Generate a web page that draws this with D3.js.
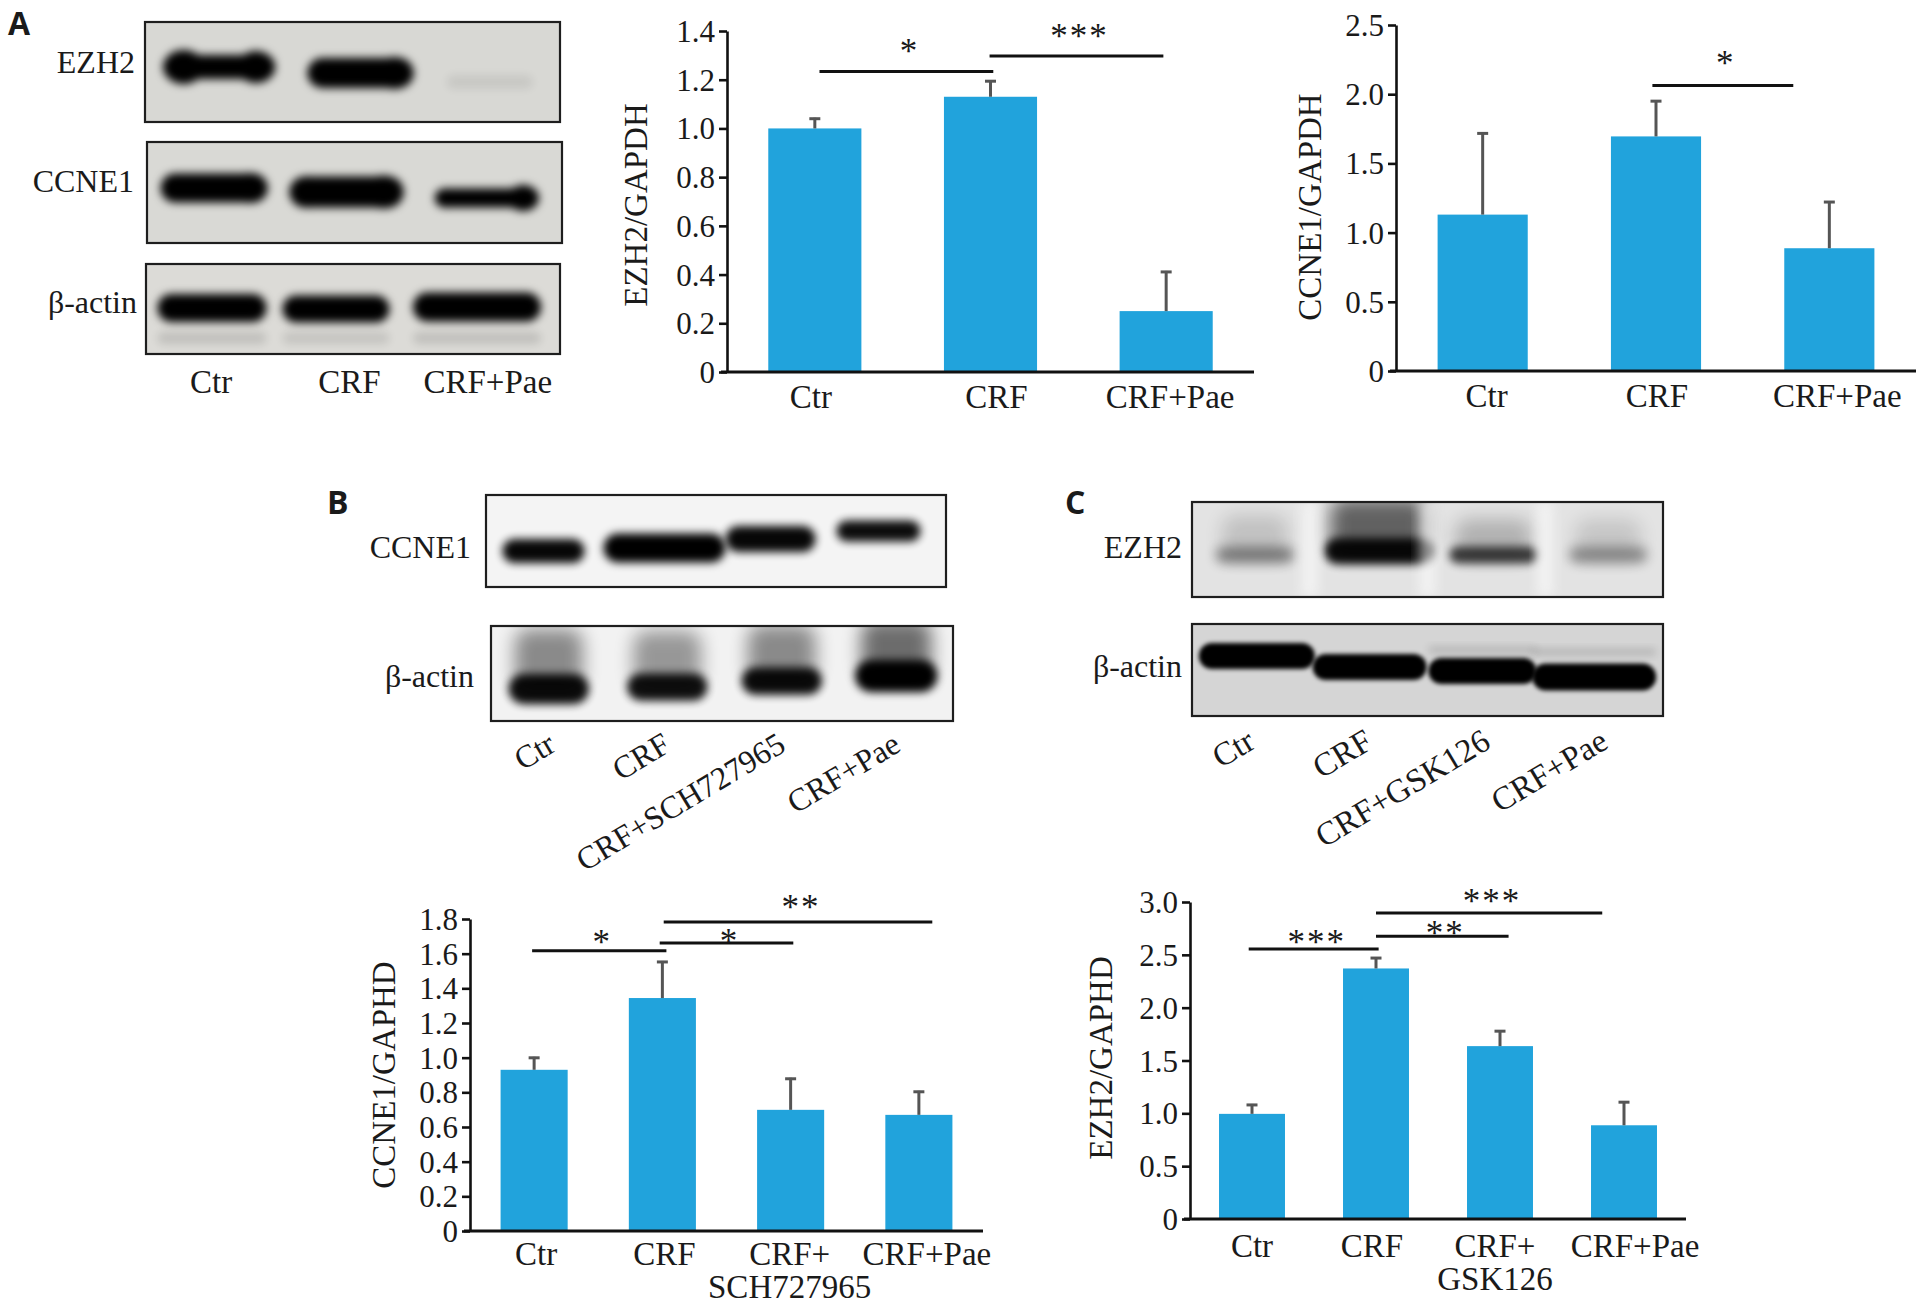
<!DOCTYPE html>
<html>
<head>
<meta charset="utf-8">
<script src="https://cdnjs.cloudflare.com/ajax/libs/d3/7.8.5/d3.min.js"></script>
<style>
body { margin: 0; background: #fff; }
text { font-family: "Liberation Serif", "Times New Roman", serif; fill: #1a1a1a; }
.panel { font-family: "Open Sans", "DejaVu Sans", sans-serif; font-weight: 700; }
</style>
</head>
<body>
<script>
// ---- data ----
var groupsA = ["Ctr", "CRF", "CRF+Pae"]
var ezh2A = [1.00, 1.13, 0.25]
var ezh2ErrA = [0.044, 0.068, 0.165]
var ccne1A = [1.13, 1.695, 0.887]
var ccne1ErrA = [0.594, 0.262, 0.341]
var ticksA1 = [0, 0.2, 0.4, 0.6, 0.8, 1.0, 1.2, 1.4]
var ticksA2 = [0, 0.5, 1.0, 1.5, 2.0, 2.5]

var groupsB = ["Ctr", "CRF", "CRF+SCH727965", "CRF+Pae"]
var axisLabelsB = [["Ctr"], ["CRF"], ["CRF+", "SCH727965"], ["CRF+Pae"]]
var ccne1B = [0.93, 1.344, 0.699, 0.670]
var ccne1ErrB = [0.075, 0.214, 0.185, 0.139]
var ticksB = [0, 0.2, 0.4, 0.6, 0.8, 1.0, 1.2, 1.4, 1.6, 1.8]

var groupsC = ["Ctr", "CRF", "CRF+GSK126", "CRF+Pae"]
var axisLabelsC = [["Ctr"], ["CRF"], ["CRF+", "GSK126"], ["CRF+Pae"]]
var ezh2C = [0.995, 2.371, 1.636, 0.887]
var ezh2ErrC = [0.094, 0.108, 0.151, 0.228]
var ticksC = [0, 0.5, 1.0, 1.5, 2.0, 2.5, 3.0]

// significance brackets: [from, to, height (axis units), stars]
var sigA1 = [["Ctr", "CRF", 1.234, "*"], ["CRF", "CRF+Pae", 1.297, "***"]]
var sigA2 = [["CRF", "CRF+Pae", 2.063, "*"]]
var sigB = [["Ctr", "CRF", 1.617, "*"], ["CRF", "CRF+SCH727965", 1.662, "*"], ["CRF", "CRF+Pae", 1.783, "**"]]
var sigC = [["Ctr", "CRF", 2.555, "***"], ["CRF", "CRF+GSK126", 2.675, "**"], ["CRF", "CRF+Pae", 2.896, "***"]]

// blot band density per lane (0 none .. 1 saturated)
var densA_EZH2 = [1, 1, 0.07]
var densA_CCNE1 = [1, 1, 1]
var densA_actin = [1, 1, 1]
var densB_CCNE1 = [0.97, 1, 0.97, 0.95]
var densB_actin = [0.95, 0.93, 0.95, 1]
var densC_EZH2 = [0.42, 0.95, 0.72, 0.36]
var densC_actin = [1, 1, 1, 1]

var blue = "#21a3dc"
var W = 1919, H = 1304

var svg = d3.select("body").append("svg")
    .attr("width", W)
    .attr("height", H)

svg.append("rect").attr("width", W).attr("height", H).attr("fill", "#fff")

var defs = svg.append("defs")
;[2, 3, 4, 6, 9].forEach(function(s){
    defs.append("filter")
        .attr("id", "blur" + s)
        .attr("x", "-50%").attr("y", "-100%")
        .attr("width", "200%").attr("height", "300%")
        .append("feGaussianBlur").attr("stdDeviation", s)
})

function addText(g, str, x, y, size, anchor){
    return g.append("text")
        .attr("x", x)
        .attr("y", y)
        .attr("font-size", size)
        .attr("text-anchor", anchor || "start")
        .text(str)
}

// panel letters
var letters = [["A", 8, 35], ["B", 327, 514], ["C", 1065, 514]]
letters.forEach(function(l){
    addText(svg, l[0], l[1], l[2], 32).attr("class", "panel")
})

// ---------- western blots ----------
var clipId = 0
function drawBlot(cfg){
    var g = svg.append("g")
    var lane = d3.scaleBand().domain(cfg.lanes).range([cfg.x, cfg.x + cfg.w])
    clipId++
    defs.append("clipPath").attr("id", "clip" + clipId)
        .append("rect").attr("x", cfg.x).attr("y", cfg.y).attr("width", cfg.w).attr("height", cfg.h)

    g.append("rect")
        .attr("x", cfg.x).attr("y", cfg.y)
        .attr("width", cfg.w).attr("height", cfg.h)
        .attr("fill", cfg.bg)

    var inner = g.append("g").attr("clip-path", "url(#clip" + clipId + ")")

    cfg.bands.forEach(function(b, i){
        var dens = cfg.density[i]
        var cx = lane(cfg.lanes[i]) + lane.bandwidth() / 2 + b.dx
        // diffuse smear above the band
        if (b.smear){
            inner.append("rect")
                .attr("x", cx - b.w / 2 + 6)
                .attr("y", b.cy - b.smear[0])
                .attr("width", b.w - 12)
                .attr("height", b.smear[0] + 4)
                .attr("rx", 14)
                .attr("fill", "#000")
                .attr("opacity", dens * b.smear[1])
                .attr("filter", "url(#blur9)")
        }
        var bg = inner.append("g")
            .attr("filter", "url(#blur" + (b.blur || 3) + ")")
            .attr("opacity", dens)
        bg.append("rect")
            .attr("x", cx - b.w / 2)
            .attr("y", b.cy - b.h / 2)
            .attr("width", b.w)
            .attr("height", b.h)
            .attr("rx", b.h / 2)
            .attr("fill", "#000")
        if (b.ends){
            var eL = b.ends[0], eR = b.ends[1]
            bg.append("ellipse")
                .attr("cx", cx - b.w / 2 + eL * 0.6).attr("cy", b.cy)
                .attr("rx", eL * 0.6).attr("ry", eL / 2).attr("fill", "#000")
            bg.append("ellipse")
                .attr("cx", cx + b.w / 2 - eR * 0.6).attr("cy", b.cy)
                .attr("rx", eR * 0.6).attr("ry", eR / 2).attr("fill", "#000")
        }
        if (b.ghost){
            inner.append("rect")
                .attr("x", cx - b.w / 2)
                .attr("y", b.ghost[0] - b.ghost[1] / 2)
                .attr("width", b.w)
                .attr("height", b.ghost[1])
                .attr("rx", b.ghost[1] / 2)
                .attr("fill", "#000")
                .attr("opacity", b.ghost[2])
                .attr("filter", "url(#blur4)")
        }
    })

    // lighter streaks between lanes
    if (cfg.streak){
        inner.selectAll(".streak").data(cfg.lanes.slice(1)).enter().append("rect")
            .attr("x", function(d){ return lane(d) - 8 })
            .attr("y", cfg.y)
            .attr("width", 16)
            .attr("height", cfg.h)
            .attr("fill", "#fff")
            .attr("opacity", cfg.streak)
            .attr("filter", "url(#blur6)")
    }

    g.append("rect")
        .attr("x", cfg.x).attr("y", cfg.y)
        .attr("width", cfg.w).attr("height", cfg.h)
        .attr("fill", "none")
        .attr("stroke", "#1e1e1e")
        .attr("stroke-width", 2.2)

    addText(svg, cfg.label, cfg.labelX, cfg.labelY, 32, "end")
    return lane
}

// panel A blots
var laneA = drawBlot({ lanes: groupsA, x: 145, y: 22, w: 415, h: 100, bg: "#d8d8d4",
    label: "EZH2", labelX: 135, labelY: 73, density: densA_EZH2,
    bands: [ {dx: 5, cy: 67, w: 112, h: 24, blur: 4, ends: [34, 32]},
             {dx: 8, cy: 73, w: 106, h: 30, blur: 4, ends: [30, 32]},
             {dx: -1, cy: 82, w: 86, h: 14, blur: 4} ] })
drawBlot({ lanes: groupsA, x: 147, y: 142, w: 415, h: 101, bg: "#d9d9d5",
    label: "CCNE1", labelX: 134, labelY: 192, density: densA_CCNE1,
    bands: [ {dx: -2, cy: 188, w: 107, h: 29, blur: 4, ends: [14, 30]},
             {dx: -8, cy: 192, w: 114, h: 31, blur: 4, ends: [31, 33]},
             {dx: -6, cy: 198, w: 104, h: 19, blur: 4, ends: [19, 26]} ] })
drawBlot({ lanes: groupsA, x: 146, y: 264, w: 414, h: 90, bg: "#dcdbd7",
    label: "β-actin", labelX: 137, labelY: 313, density: densA_actin,
    bands: [ {dx: -3, cy: 308, w: 109, h: 28, blur: 4, ghost: [338, 12, 0.12]},
             {dx: -17, cy: 309, w: 107, h: 27, blur: 4, ghost: [338, 12, 0.1]},
             {dx: -14, cy: 307, w: 128, h: 29, blur: 4, ghost: [338, 12, 0.12]} ] })
groupsA.forEach(function(d){
    addText(svg, d, laneA(d) + laneA.bandwidth() / 2 - 3, 393, 33, "middle")
})

// panel B blots
var laneB = drawBlot({ lanes: groupsB, x: 486, y: 495, w: 460, h: 92, bg: "#f4f4f4",
    label: "CCNE1", labelX: 471, labelY: 558, density: densB_CCNE1,
    bands: [ {dx: 0, cy: 551, w: 82, h: 24, blur: 4},
             {dx: 6, cy: 548, w: 122, h: 29, blur: 4},
             {dx: -3, cy: 539, w: 90, h: 26, blur: 4},
             {dx: -10, cy: 531, w: 84, h: 21, blur: 4} ] })
drawBlot({ lanes: groupsB, x: 491, y: 626, w: 462, h: 95, bg: "#f2f2f2",
    label: "β-actin", labelX: 474, labelY: 687, density: densB_actin,
    bands: [ {dx: 0, cy: 689, w: 80, h: 30, blur: 4, smear: [60, 0.45]},
             {dx: 3, cy: 687, w: 80, h: 27, blur: 4, smear: [56, 0.4]},
             {dx: 2, cy: 681, w: 80, h: 27, blur: 4, smear: [56, 0.45]},
             {dx: 1, cy: 676, w: 82, h: 32, blur: 4, smear: [56, 0.55]} ] })
groupsB.forEach(function(d){
    var x0 = laneB(d) + laneB.bandwidth() / 2 + 14
    svg.append("text")
        .attr("transform", "translate(" + x0 + ",750) rotate(-31)")
        .attr("font-size", 32)
        .attr("text-anchor", "end")
        .text(d)
})

// panel C blots
var laneC = drawBlot({ lanes: groupsC, x: 1192, y: 502, w: 471, h: 95, bg: "#e3e3e3", streak: 0.55,
    label: "EZH2", labelX: 1182, labelY: 558, density: densC_EZH2,
    bands: [ {dx: 4, cy: 555, w: 78, h: 16, blur: 6, smear: [40, 0.35]},
             {dx: 10, cy: 551, w: 108, h: 26, blur: 4, smear: [52, 0.6]},
             {dx: 7, cy: 555, w: 88, h: 17, blur: 4, smear: [36, 0.3]},
             {dx: 4, cy: 555, w: 78, h: 16, blur: 6, smear: [36, 0.35]} ] })
drawBlot({ lanes: groupsC, x: 1192, y: 624, w: 471, h: 92, bg: "#d5d5d5",
    label: "β-actin", labelX: 1182, labelY: 677, density: densC_actin,
    bands: [ {dx: 6, cy: 656, w: 116, h: 26, blur: 2},
             {dx: 1, cy: 667, w: 114, h: 26, blur: 2},
             {dx: -4, cy: 671, w: 108, h: 26, blur: 2, ghost: [650, 6, 0.18]},
             {dx: -10, cy: 677, w: 124, h: 27, blur: 2, ghost: [652, 6, 0.18]} ] })
groupsC.forEach(function(d){
    var x0 = laneC(d) + laneC.bandwidth() / 2 + 6
    svg.append("text")
        .attr("transform", "translate(" + x0 + ",747) rotate(-31)")
        .attr("font-size", 33)
        .attr("text-anchor", "end")
        .text(d)
})

// ---------- bar charts ----------
function drawBarChart(cfg){
    var g = svg.append("g")
    var x = d3.scaleBand()
        .domain(cfg.groups)
        .range([cfg.left, cfg.right])
        .paddingInner(cfg.pad)
        .paddingOuter(cfg.pad / 2)
    var y = d3.scaleLinear()
        .domain([0, cfg.max])
        .range([cfg.bottom, cfg.top])
    var bw = x.bandwidth()

    g.selectAll(".bar")
        .data(cfg.values)
        .enter()
        .append("rect")
        .attr("class", "bar")
        .attr("x", function(d, i){ return x(cfg.groups[i]) })
        .attr("y", function(d){ return y(d) })
        .attr("width", bw)
        .attr("height", function(d){ return y(0) - y(d) })
        .attr("fill", blue)

    // error bars (upper only)
    var err = g.selectAll(".err")
        .data(cfg.values)
        .enter()
        .append("g")
        .attr("class", "err")
        .attr("stroke", "#555")
        .attr("stroke-width", 3)
    err.append("line")
        .attr("x1", function(d, i){ return x(cfg.groups[i]) + bw / 2 })
        .attr("x2", function(d, i){ return x(cfg.groups[i]) + bw / 2 })
        .attr("y1", function(d){ return y(d) })
        .attr("y2", function(d, i){ return y(d + cfg.errors[i]) })
    err.append("line")
        .attr("x1", function(d, i){ return x(cfg.groups[i]) + bw / 2 - 5.5 })
        .attr("x2", function(d, i){ return x(cfg.groups[i]) + bw / 2 + 5.5 })
        .attr("y1", function(d, i){ return y(d + cfg.errors[i]) + 1 })
        .attr("y2", function(d, i){ return y(d + cfg.errors[i]) + 1 })

    // y axis
    var yAxis = d3.axisLeft(y)
        .tickValues(cfg.ticks)
        .tickSize(8)
        .tickSizeOuter(0)
        .tickPadding(4)
        .tickFormat(function(d){ return d === 0 ? "0" : d3.format(".1f")(d) })
    var ax = g.append("g")
        .attr("transform", "translate(" + cfg.left + ",0)")
        .call(yAxis)
    ax.attr("font-family", null).attr("font-size", 31)
    ax.select(".domain").attr("stroke", "#111").attr("stroke-width", 2.6)
    ax.selectAll(".tick line").attr("stroke", "#111").attr("stroke-width", 2.6)
    ax.selectAll(".tick text").attr("fill", "#1a1a1a").attr("dy", "0.34em")

    g.append("line")
        .attr("x1", cfg.left - 6)
        .attr("x2", cfg.right)
        .attr("y1", y(0))
        .attr("y2", y(0))
        .attr("stroke", "#111")
        .attr("stroke-width", 3)

    // category labels
    cfg.labels.forEach(function(lines, i){
        var cx = x(cfg.groups[i]) + bw / 2 + cfg.catDx[i]
        lines.forEach(function(t, j){
            addText(g, t, cx, cfg.catY + j * 33, 33, "middle")
        })
    })

    // y label
    g.append("text")
        .attr("transform", "translate(" + (cfg.yLabelX + 11) + "," + cfg.yLabelY + ") rotate(-90)")
        .attr("font-size", 33)
        .attr("text-anchor", "middle")
        .text(cfg.yLabel)

    // significance
    cfg.sig.forEach(function(s, i){
        var x1 = x(s[0]) + cfg.sigFrac[i][0] * bw
        var x2 = x(s[1]) + cfg.sigFrac[i][1] * bw
        g.append("line")
            .attr("x1", x1).attr("x2", x2)
            .attr("y1", y(s[2])).attr("y2", y(s[2]))
            .attr("stroke", "#111")
            .attr("stroke-width", 3)
        addText(g, s[3], (x1 + x2) / 2 + 3, y(s[2]) - cfg.starGap[i] + 16, 35, "middle")
            .attr("letter-spacing", 2)
    })
}

drawBarChart({ groups: groupsA, labels: groupsA.map(function(d){ return [d] }),
    values: ezh2A, errors: ezh2ErrA, ticks: ticksA1, max: 1.4,
    left: 727, right: 1254, top: 31, bottom: 372, pad: 0.47, catY: 408, catDx: [-4, 6, 4],
    yLabel: "EZH2/GAPDH", yLabelX: 636, yLabelY: 205,
    sig: sigA1, sigFrac: [[0.55, 0.53], [0.49, 0.47]], starGap: [24, 24] })

drawBarChart({ groups: groupsA, labels: groupsA.map(function(d){ return [d] }),
    values: ccne1A, errors: ccne1ErrA, ticks: ticksA2, max: 2.5,
    left: 1396, right: 1916, top: 25, bottom: 371, pad: 0.48, catY: 407, catDx: [4, 1, 8],
    yLabel: "CCNE1/GAPDH", yLabelX: 1310, yLabelY: 207,
    sig: sigA2, sigFrac: [[0.46, 0.1]], starGap: [26] })

drawBarChart({ groups: groupsB, labels: axisLabelsB,
    values: ccne1B, errors: ccne1ErrB, ticks: ticksB, max: 1.8,
    left: 470, right: 983, top: 919, bottom: 1231, pad: 0.477, catY: 1265, catDx: [2, 2, -1, 8],
    yLabel: "CCNE1/GAPHD", yLabelX: 384, yLabelY: 1075,
    sig: sigB, sigFrac: [[0.47, 0.56], [0.46, 0.54], [0.52, 0.70]], starGap: [13, 6, 19] })

drawBarChart({ groups: groupsC, labels: axisLabelsC,
    values: ezh2C, errors: ezh2ErrC, ticks: ticksC, max: 3.0,
    left: 1190, right: 1686, top: 902, bottom: 1219, pad: 0.468, catY: 1257, catDx: [0, -4, -5, 11],
    yLabel: "EZH2/GAPHD", yLabelX: 1101, yLabelY: 1058,
    sig: sigC, sigFrac: [[0.45, 0.54], [0.50, 0.63], [0.50, 0.17]], starGap: [11, 7, 16] })
</script>
</body>
</html>
